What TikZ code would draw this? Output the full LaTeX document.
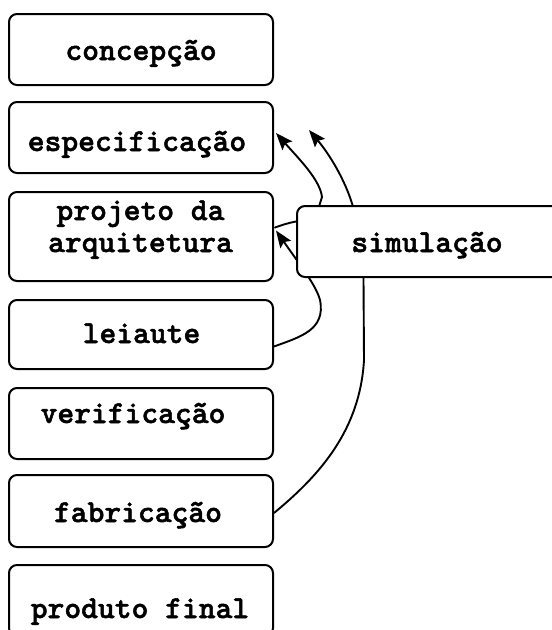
\documentclass[tikz,border=0pt]{standalone}
\usepackage{fontspec}
\newfontfamily\courb{lmmonolt10-bold.otf}[FakeBold=1.6]
\usetikzlibrary{arrows.meta,calc,backgrounds}
\begin{document}
\begin{tikzpicture}[x=1pt,y=-1pt,
  box/.style={draw, line width=2pt, rounded corners=8pt, fill=white, minimum width=264pt, inner sep=0pt},
  txt/.style={font=\fontsize{32}{34}\selectfont\courb, anchor=base, inner sep=0pt},
  conn/.style={line width=1.9pt, line join=round, line cap=round},
  arr/.style={conn, -{Stealth[length=17pt,width=13pt,inset=3pt]}}]
\clip (0,0) rectangle (552,630);
% boxes
\node[box, minimum height=71pt] (conc) at (141,49.5) {};
\node[box, minimum height=71pt] (spec) at (141,137.5) {};
\node[box, minimum height=89pt] (proj) at (141,236.5) {};
\node[box, minimum height=69pt] (leia) at (141,334.5) {};
\node[box, minimum height=71pt] (veri) at (141,423.5) {};
\node[box, minimum height=72pt] (fabr) at (141,511) {};
\node[box, minimum height=71pt] (prod) at (141,600.5) {};
\node[box, minimum height=71pt] (sim) at (429,241.5) {};
% texts
\node[txt] (concT) at (141,60) {concepção};
\node[txt] (specT) at (137,151) {especificação};
\node[txt] (projT1) at (140.5,220) {projeto da};
\node[txt] (projT2) at (140.5,252) {arquitetura};
\node[txt] (leiaT) at (141.5,343) {leiaute};
\node[txt] (veriT) at (133,423) {verificação};
\node[txt] (fabrT) at (138,522) {fabricação};
\node[txt] (prodT) at (140,618) {produto final};
\node[txt] (simT) at (427,252) {simulação};
% connector anchor points
\coordinate (simA) at ($(sim.north west)+(23.5,0)$);
\coordinate (simB) at ($(sim.north west)+(56.5,0)$);
\coordinate (simL) at ($(sim.west)+(0,-20)$);
\coordinate (simS) at ($(sim.south west)+(67.5,0)$);
\coordinate (specE) at ($(spec.east)+(2,-4.5)$);
\coordinate (freeB) at (309,130);
\coordinate (projE) at ($(proj.east)+(2,-6)$);
\coordinate (projL) at ($(proj.east)+(1,-9)$);
\coordinate (leiaE) at ($(leia.east)+(0,12)$);
\coordinate (fabrE) at ($(fabr.east)+(0,2)$);
\begin{scope}[on background layer]
\draw[arr] (simA) -- (322,197) .. controls (320,180) and (300,160) .. (specE);
\draw[arr] (simB) .. controls (345,180) and (330,155) .. (freeB);
\draw[conn] (simL) .. controls (288,223) and (282,225) .. (projL);
\draw[arr] (leiaE) .. controls (300,337) and (326,330) .. (320,300)
   .. controls (316,285) and (300,265) .. (projE);
\draw[conn] (fabrE) .. controls (320,475) and (360,430) .. (364,360) -- (simS);
\end{scope}
\end{tikzpicture}
\end{document}
